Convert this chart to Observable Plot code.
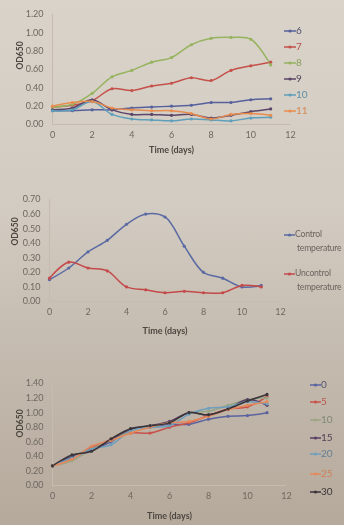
<!DOCTYPE html>
<html><head><meta charset="utf-8">
<script src="https://cdn.jsdelivr.net/npm/d3@7"></script>
<script src="https://cdn.jsdelivr.net/npm/@observablehq/plot@0.6"></script>
<style>
html,body{margin:0;padding:0;}
body{width:344px;height:525px;overflow:hidden;background:linear-gradient(180deg,#d9d3ca 0%,#d2cbc1 40%,#c3b9ad 70%,#b5a99b 100%);font-family:Lato,"Liberation Sans",sans-serif;}
#wrap{position:relative;width:344px;height:525px;filter:blur(0.45px);}
.pl{position:absolute;left:0;}
.pl svg{background:transparent;overflow:visible;}
.leg{position:absolute;font-size:10px;line-height:12px;white-space:nowrap;}
.leg svg{vertical-align:middle;}
</style></head>
<body><div id="wrap"></div>
<script>
const days = [0,1,2,3,4,5,6,7,8,9,10,11];
const xTicks = [0,2,4,6,8,10,12];

// Chart 1
const c1Names = ["6","7","8","9","10","11"];
const c1Colors = ["#56619c","#c5514a","#96b35e","#5b4569","#5f9fba","#e98c4f"];
const c1_6  = [0.15,0.15,0.16,0.16,0.18,0.19,0.20,0.21,0.24,0.24,0.27,0.28];
const c1_7  = [0.19,0.21,0.26,0.39,0.37,0.42,0.45,0.51,0.48,0.59,0.64,0.68];
const c1_8  = [0.19,0.22,0.34,0.52,0.59,0.68,0.73,0.87,0.94,0.95,0.93,0.65];
const c1_9  = [0.16,0.18,0.27,0.16,0.11,0.11,0.10,0.11,0.07,0.10,0.14,0.17];
const c1_10 = [0.15,0.16,0.25,0.11,0.06,0.05,0.04,0.06,0.05,0.04,0.07,0.08];
const c1_11 = [0.20,0.24,0.25,0.18,0.16,0.15,0.15,0.12,0.06,0.11,0.12,0.10];
const c1Ticks = [0,0.2,0.4,0.6,0.8,1.0,1.2];

// Chart 2
const c2Names = ["Control temperature","Uncontrol temperature"];
const c2Colors = ["#5b6aa3","#c44a4a"];
const c2_control   = [0.15,0.23,0.34,0.42,0.53,0.60,0.58,0.38,0.20,0.16,0.10,0.11];
const c2_uncontrol = [0.16,0.27,0.23,0.21,0.10,0.08,0.06,0.07,0.06,0.06,0.11,0.10];
const c2Ticks = [0,0.1,0.2,0.3,0.4,0.5,0.6,0.7];

// Chart 3
const c3Names = ["0","5","10","15","20","25","30"];
const c3Colors = ["#5a63a0","#c8524b","#9aa585","#5a3f66","#6f9fbd","#e6895a","#3a3538"];
const c3_0  = [0.27,0.40,0.49,0.60,0.77,0.80,0.84,0.84,0.91,0.95,0.96,1.00];
const c3_5  = [0.27,0.37,0.52,0.63,0.72,0.72,0.80,0.86,0.96,1.05,1.08,1.22];
const c3_10 = [0.27,0.34,0.50,0.62,0.75,0.82,0.86,1.00,1.02,1.10,1.18,1.20];
const c3_15 = [0.27,0.40,0.48,0.63,0.77,0.82,0.88,1.00,0.97,1.05,1.18,1.10];
const c3_20 = [0.27,0.38,0.50,0.56,0.75,0.80,0.82,0.98,1.06,1.08,1.15,1.12];
const c3_25 = [0.27,0.36,0.54,0.62,0.72,0.80,0.86,0.88,0.95,1.04,1.10,1.15];
const c3_30 = [0.27,0.42,0.47,0.64,0.78,0.82,0.86,1.00,0.97,1.05,1.16,1.25];
const c3Ticks = [0,0.2,0.4,0.6,0.8,1.0,1.2,1.4];

function table(names, series){
  const rows=[];
  names.forEach((n,i)=>series[i].forEach((v,j)=>rows.push({s:n,day:days[j],v})));
  return rows;
}

const tickColor="#6e6861", titleColor="#4d4741", axisColor="#c4bcb1";

function makeChart(cfg){
  const data = table(cfg.names, cfg.series);
  const p = Plot.plot({
    width:344, height:cfg.height,
    marginLeft:cfg.ml, marginRight:cfg.mr, marginTop:cfg.mt, marginBottom:cfg.mb,
    style:{background:"transparent",fontFamily:"Lato, 'Liberation Sans', sans-serif",fontSize:"9px",color:tickColor},
    x:{domain:[0,12], ticks:xTicks, tickSize:0, tickPadding:7, label:null},
    y:{domain:cfg.ydomain, ticks:cfg.yticks, tickFormat:d=>d.toFixed(2), tickSize:0, tickPadding:9, label:null},
    color:{domain:cfg.names, range:cfg.colors},
    marks:[
      Plot.ruleX([0],{stroke:axisColor,strokeWidth:1}),
      Plot.ruleY([0],{stroke:axisColor,strokeWidth:1}),
      Plot.line(data,{x:"day",y:"v",z:"s",stroke:"s",strokeWidth:1.5,curve:"catmull-rom"}),
      Plot.dot(data,{x:"day",y:"v",fill:"s",r:1.6,stroke:"none"}),
      Plot.text(["Time (days)"],{frameAnchor:"bottom",dy:cfg.tdy,fontWeight:"bold",fontSize:9,fill:titleColor}),
      Plot.text(["OD650"],{frameAnchor:"left",dx:cfg.odx,dy:cfg.ody||0,rotate:-90,fontWeight:"bold",fontSize:8.5,fill:titleColor})
    ]
  });
  p.classList.add("pl");
  p.style.top = cfg.top+"px";
  document.getElementById("wrap").appendChild(p);
}

function legend(items, colors, left, ys, textColors, lineW, extraStyle){
  const wrap=document.getElementById("wrap");
  items.forEach((name,i)=>{
    const d=document.createElement("div");
    d.className="leg";
    d.style.left=left+"px";
    d.style.top=(ys[i]-6)+"px";
    if(extraStyle) d.style.cssText += extraStyle;
    const lines = name.split("\n");
    d.innerHTML=`<svg width="${lineW}" height="6"><line x1="0" y1="3" x2="${lineW}" y2="3" stroke="${colors[i]}" stroke-width="1.5"/><circle cx="${lineW/2}" cy="3" r="1.6" fill="${colors[i]}"/></svg><span style="color:${textColors[i]}">${lines[0]}</span>`+
      (lines[1]?`<br><span style="color:${textColors[i]};padding-left:${lineW+2}px">${lines[1]}</span>`:"");
    wrap.appendChild(d);
  });
}

makeChart({names:c1Names,colors:c1Colors,series:[c1_6,c1_7,c1_8,c1_9,c1_10,c1_11],
  height:160, top:0, ml:52, mr:54, mt:14, mb:36, ydomain:[0,1.2], yticks:c1Ticks, tdy:28, odx:-32});
legend(c1Names, c1Colors, 284, [30,46,62,78,94,110], ["#4f4f6e","#b84e48","#8aa25c","#4e4458","#5d8ea6","#d88752"], 12);

makeChart({names:c2Names,colors:c2Colors,series:[c2_control,c2_uncontrol],
  height:161, top:180, ml:49, mr:64, mt:19, mb:40, ydomain:[0,0.7], yticks:c2Ticks, tdy:32, odx:-34, ody:-5});
legend(["Control\ntemperature","Uncontrol\ntemperature"], c2Colors, 284, [233,272], ["#6a655f","#6a655f"], 11, "font-size:8.6px;line-height:14px;letter-spacing:-0.2px;");

makeChart({names:c3Names,colors:c3Colors,series:[c3_0,c3_5,c3_10,c3_15,c3_20,c3_25,c3_30],
  height:160, top:365, ml:52, mr:58, mt:18, mb:40, ydomain:[0,1.4], yticks:c3Ticks, tdy:33, odx:-32, ody:3});
legend(c3Names, c3Colors, 310, [384,401,419,437,453,473,491], ["#56566e","#b9564e","#7f8a74","#4e4256","#647f95","#cc8158","#3a3538"], 11);
</script>
</body></html>
